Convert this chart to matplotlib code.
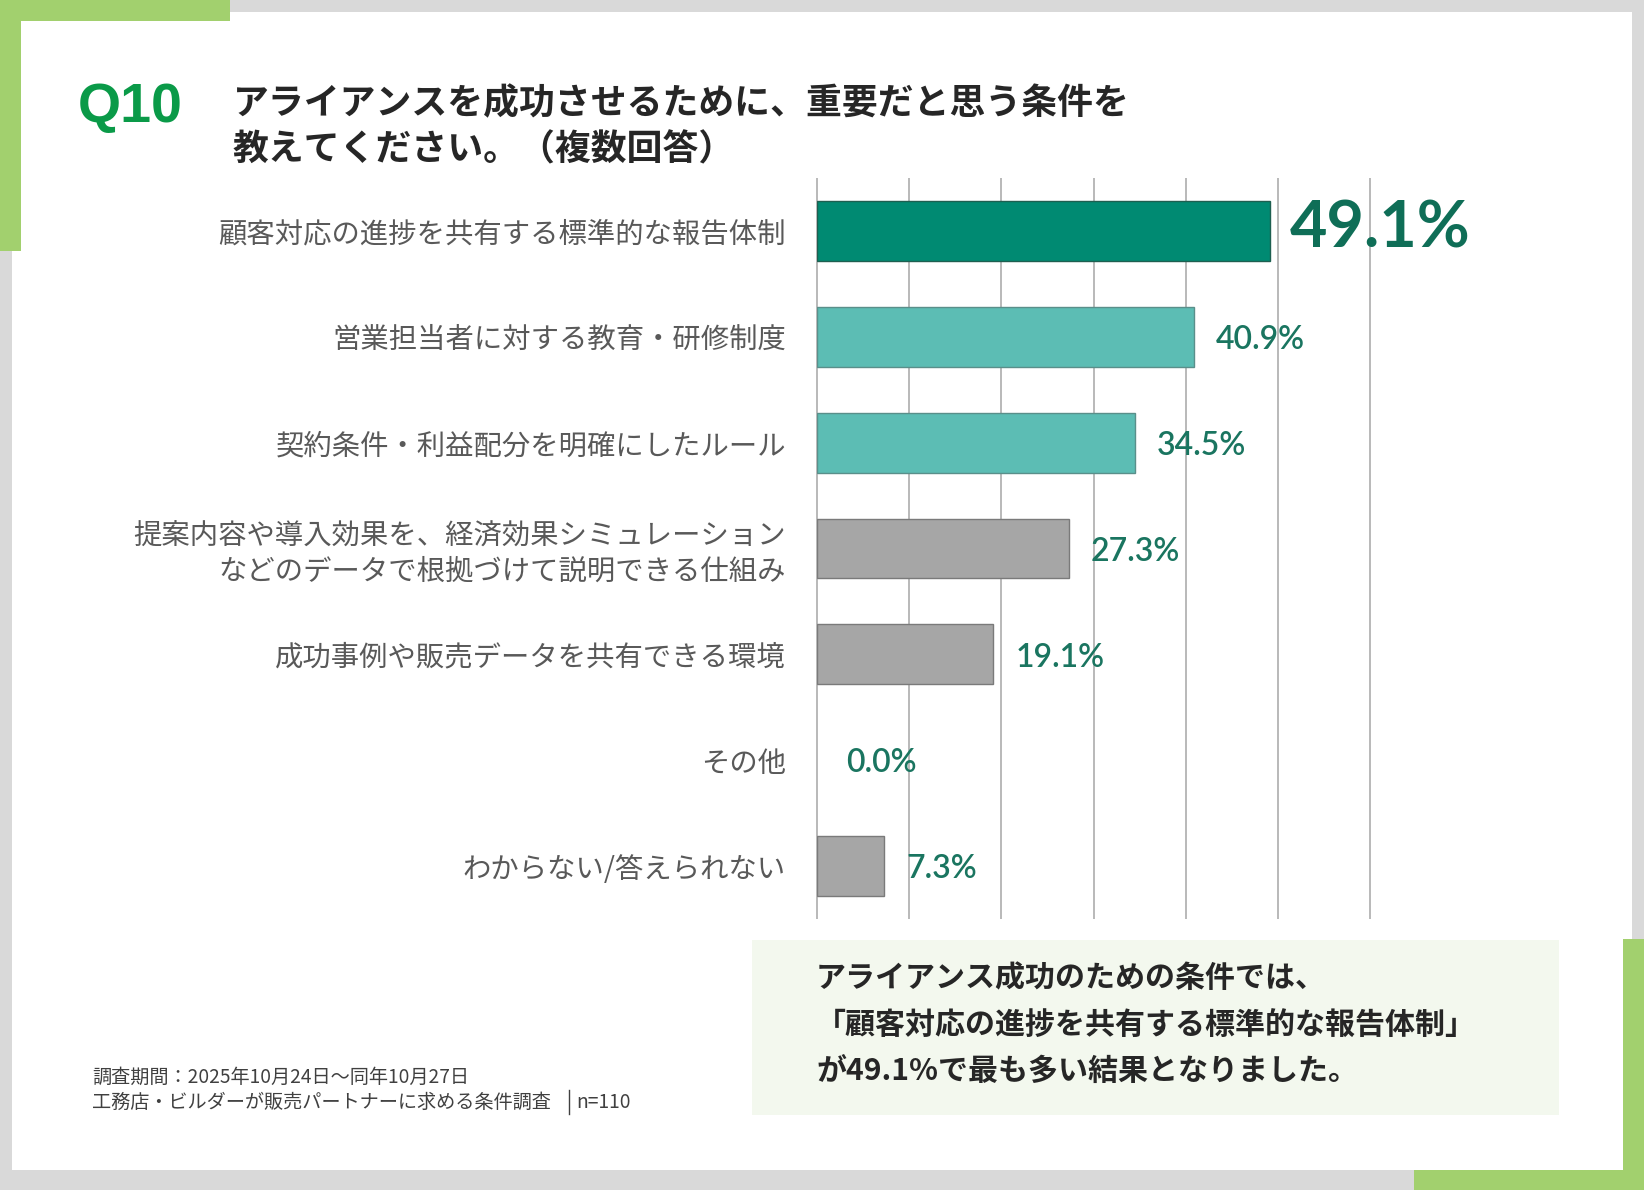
import matplotlib
matplotlib.use("Agg")
import matplotlib.pyplot as plt
from matplotlib.patches import Rectangle
import numpy as np

plt.rcParams['font.family'] = ['Noto Sans CJK JP', 'DejaVu Sans']

# ---------------- data ----------------
categories = [
    "顧客対応の進捗を共有する標準的な報告体制",
    "営業担当者に対する教育・研修制度",
    "契約条件・利益配分を明確にしたルール",
    "提案内容や導入効果を、経済効果シミュレーション\nなどのデータで根拠づけて説明できる仕組み",
    "成功事例や販売データを共有できる環境",
    "その他",
    "わからない/答えられない",
]
values = [49.1, 40.9, 34.5, 27.3, 19.1, 0.0, 7.3]
value_labels = ["49.1%", "40.9%", "34.5%", "27.3%", "19.1%", "0.0%", "7.3%"]
x_ticks = [0, 10, 20, 30, 40, 50, 60]

title_q = "Q10"
title_line1 = "アライアンスを成功させるために、重要だと思う条件を"
title_line2 = "教えてください。（複数回答）"
summary_lines = ["アライアンス成功のための条件では、",
                 "「顧客対応の進捗を共有する標準的な報告体制」",
                 "が49.1%で最も多い結果となりました。"]
note_line1 = "調査期間：2025年10月24日～同年10月27日"
note_line2 = "工務店・ビルダーが販売パートナーに求める条件調査"
note_n = "n=110"

# ---------------- styles ----------------
face_colors = ['#008a72', '#5cbdb4', '#5cbdb4', '#a6a6a6', '#a6a6a6', '#a6a6a6', '#a6a6a6']
edge_colors = ['#1e5f50', '#5a8f8a', '#5a8f8a', '#7a7a7a', '#7a7a7a', '#7a7a7a', '#7a7a7a']

W, H = 1644, 1190
fig = plt.figure(figsize=(W / 100, H / 100), dpi=100)
fig.patch.set_facecolor('#d9d9d9')

def fx(x):
    return x / W

def fy(y):
    return 1 - y / H

def rect(x0, y0, x1, y1, color, z=0):
    fig.patches.append(Rectangle((fx(x0), fy(y1)), fx(x1) - fx(x0), fy(y0) - fy(y1),
                                 transform=fig.transFigure, facecolor=color,
                                 edgecolor='none', zorder=z))

green = '#a2d06e'
rect(12, 12, 1632, 1170, 'white', 0)
rect(0, 0, 230, 21, green, 1)
rect(0, 0, 21, 251, green, 1)
rect(1623, 939, 1644, 1190, green, 1)
rect(1414, 1170, 1644, 1190, green, 1)
rect(752, 940, 1559, 1115, '#f3f8ee', 1)

# ---------------- title ----------------
fig.text(fx(78), fy(122), title_q, fontsize=40, fontweight='bold', color='#0a9a48',
         family=['Liberation Sans', 'DejaVu Sans'], va='baseline', ha='left', zorder=6)
fig.text(fx(233), fy(104), title_line1, fontsize=25.8, fontweight='bold',
         color='#262626', va='center', ha='left', zorder=6)
fig.text(fx(233), fy(150), title_line2, fontsize=25.8, fontweight='bold',
         color='#262626', va='center', ha='left', zorder=6)

# ---------------- chart ----------------
ax_left, ax_right, ax_top, ax_bottom = 817, 1370, 178, 919
ax = fig.add_axes([fx(ax_left), fy(ax_bottom), fx(ax_right) - fx(ax_left),
                   fy(ax_top) - fy(ax_bottom)])
ax.set_zorder(5)
ax.set_facecolor('none')
ypos = np.arange(len(categories))
ax.set_xlim(x_ticks[0], x_ticks[-1])
ax.set_ylim(len(categories) - 0.5, -0.5)
ax.vlines(x_ticks, -0.5, len(categories) - 0.5, colors='#a6a6a6', linewidth=1.1,
          clip_on=False, zorder=1)
for i, v in enumerate(values):
    if v > 0:
        ax.barh(ypos[i], v, height=0.566, color=face_colors[i],
                edgecolor=edge_colors[i], linewidth=1.0, zorder=2)
for i, (v, lab) in enumerate(zip(values, value_labels)):
    if i == 0:
        ax.text(v + 2.2, ypos[i] - 0.02, lab, fontsize=46.5, fontweight='bold',
                family=['Lato', 'DejaVu Sans'], color='#0f6e57', va='center',
                ha='left', zorder=3, clip_on=False)
    else:
        off = 3.2 if v == 0 else 2.4
        ax.text(v + off, ypos[i] + 0.03, lab, fontsize=23, fontweight='semibold',
                family=['Lato', 'DejaVu Sans'],
                color='#1a7560', va='center', ha='left', zorder=3, clip_on=False)
ax.set_xticks([])
ax.set_yticks(ypos)
ax.set_yticklabels(categories, fontsize=20.4, color='#595959', linespacing=1.2)
ax.tick_params(axis='y', length=0, pad=31 * 72 / 100)
for s in ax.spines.values():
    s.set_visible(False)

# ---------------- summary box ----------------
for line, yy in zip(summary_lines, [978, 1025, 1071]):
    fig.text(fx(816), fy(yy), line, fontsize=21.6, fontweight='bold', color='#262626',
             va='center', ha='left', zorder=6)

# ---------------- note ----------------
fig.text(fx(92), fy(1077), note_line1, fontsize=13.8, color='#404040', va='center',
         ha='left', zorder=6)
fig.text(fx(92), fy(1102), note_line2, fontsize=13.8, color='#404040', va='center',
         ha='left', zorder=6)
fig.lines.append(plt.Line2D([fx(569), fx(569)], [fy(1090), fy(1114)],
                            transform=fig.transFigure, color='#404040', linewidth=1.0,
                            zorder=6))
fig.text(fx(576), fy(1102), note_n, fontsize=13.8, color='#404040', va='center',
         ha='left', zorder=6)

fig.savefig('out.png', dpi=100, facecolor=fig.get_facecolor())
